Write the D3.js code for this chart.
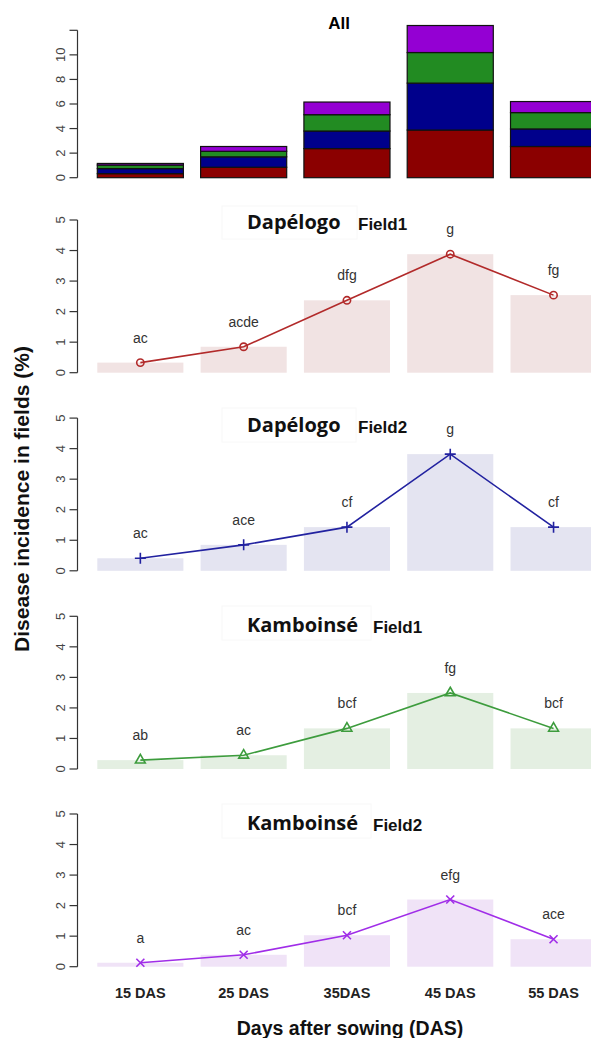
<!DOCTYPE html>
<html>
<head>
<meta charset="utf-8">
<script src="https://cdn.jsdelivr.net/npm/d3@7"></script>
<style>
  body { margin: 0; background: #fff; }
  svg { display: block; font-family: "Liberation Sans", Arial, sans-serif; }
</style>
</head>
<body>
<div class="chart"></div>
<script>
// categories
const days = ["15 DAS", "25 DAS", "35DAS", "45 DAS", "55 DAS"];

// disease incidence (%) per field
const dapelogo1 = [0.33, 0.85, 2.37, 3.88, 2.54];
const dapelogo2 = [0.41, 0.85, 1.43, 3.82, 1.43];
const kamboinse1 = [0.29, 0.45, 1.33, 2.49, 1.33];
const kamboinse2 = [0.13, 0.39, 1.03, 2.2, 0.9];

// significance letters
const letters1 = ["ac", "acde", "dfg", "g", "fg"];
const letters2 = ["ac", "ace", "cf", "g", "cf"];
const letters3 = ["ab", "ac", "bcf", "fg", "bcf"];
const letters4 = ["a", "ac", "bcf", "efg", "ace"];

const allTicks = [0, 2, 4, 6, 8, 10, 12];
const fieldTicks = [0, 1, 2, 3, 4, 5];

const width = 591;
const height = 1038;

const svg = d3.select(".chart")
  .append("svg")
  .attr("width", width)
  .attr("height", height);

const step = 103.3;
const x = d3.scaleBand()
  .domain(days)
  .range([88.7, 88.7 + step * 5])
  .paddingInner(0.2 / 1.2)
  .paddingOuter(0.1 / 1.2);

const axisX = 77.5;

function drawYAxis(g, y, ticks, fmt) {
  g.append("line")
    .attr("x1", axisX).attr("x2", axisX)
    .attr("y1", y(ticks[0])).attr("y2", y(ticks[ticks.length - 1]))
    .attr("stroke", "#333").attr("stroke-width", 1.2);
  g.selectAll("line.tick")
    .data(ticks)
    .enter()
    .append("line")
    .attr("class", "tick")
    .attr("x1", axisX - 8).attr("x2", axisX)
    .attr("y1", (d) => y(d)).attr("y2", (d) => y(d))
    .attr("stroke", "#333").attr("stroke-width", 1.2);
  g.selectAll("text.tick")
    .data(ticks)
    .enter()
    .append("text")
    .attr("class", "tick")
    .attr("transform", (d) => "translate(" + (axisX - 13) + "," + y(d) + ") rotate(-90)")
    .attr("text-anchor", "middle")
    .attr("font-size", 13)
    .attr("fill", "#444")
    .text(fmt);
}

// ---- top stacked panel "All" ----
const fields = [dapelogo1, dapelogo2, kamboinse1, kamboinse2];
const stackColors = ["#8b0000", "#00008b", "#228b22", "#9400d3"];

const stackRows = days.map((d, i) => {
  const row = { day: d };
  fields.forEach((f, j) => { row["f" + j] = f[i]; });
  return row;
});
const stacked = d3.stack().keys(["f0", "f1", "f2", "f3"])(stackRows);

const yAll = d3.scaleLinear().domain([0, 12]).range([177.7, 30.3]);
const allPanel = svg.append("g");

allPanel.selectAll("g.layer")
  .data(stacked)
  .enter()
  .append("g")
  .attr("class", "layer")
  .attr("fill", (d, i) => stackColors[i])
  .selectAll("rect")
  .data((d) => d)
  .enter()
  .append("rect")
  .attr("x", (d) => x(d.data.day))
  .attr("width", x.bandwidth())
  .attr("y", (d) => yAll(d[1]))
  .attr("height", (d) => yAll(d[0]) - yAll(d[1]))
  .attr("stroke", "#111")
  .attr("stroke-width", 1.2);

drawYAxis(allPanel, yAll, allTicks, (d) => (d === 12 ? "" : d));

allPanel.append("text")
  .attr("x", 339)
  .attr("y", 29)
  .attr("text-anchor", "middle")
  .attr("font-weight", "bold")
  .attr("font-size", 17)
  .text("All");

// ---- field panels ----
const panels = [
  { site: "Dapélogo", field: "Field1", values: dapelogo1, letters: letters1,
    line: "#b22a2a", bar: "#f1e3e3", marker: "circle", y0: 372.7, title: 222, box: [222, 206, 135, 33] },
  { site: "Dapélogo", field: "Field2", values: dapelogo2, letters: letters2,
    line: "#2222a0", bar: "#e4e4f1", marker: "plus", y0: 570.8, title: 425, box: [222, 408, 134, 34] },
  { site: "Kamboinsé", field: "Field1", values: kamboinse1, letters: letters3,
    line: "#3d9c3d", bar: "#e4efe2", marker: "triangle", y0: 769, title: 625, box: [222, 606, 149, 34] },
  { site: "Kamboinsé", field: "Field2", values: kamboinse2, letters: letters4,
    line: "#a02de8", bar: "#f0e3f7", marker: "cross", y0: 966.7, title: 823, box: [222, 804, 149, 34] }
];

const markerPath = {
  circle: d3.symbol().type(d3.symbolCircle).size(42)(),
  triangle: d3.symbol().type(d3.symbolTriangle).size(42)(),
  plus: "M-5.5,0H5.5M0,-5.5V5.5",
  cross: "M-4,-4L4,4M-4,4L4,-4"
};

panels.forEach((p) => {
  const g = svg.append("g");
  const y = d3.scaleLinear().domain([0, 5]).range([p.y0, p.y0 - 152.7]);

  g.append("rect")
    .attr("x", p.box[0]).attr("y", p.box[1])
    .attr("width", p.box[2]).attr("height", p.box[3])
    .attr("fill", "#fff")
    .attr("stroke", "#f8f8f8");

  g.selectAll("rect.bar")
    .data(p.values)
    .enter()
    .append("rect")
    .attr("class", "bar")
    .attr("x", (d, i) => x(days[i]))
    .attr("width", x.bandwidth())
    .attr("y", (d) => y(d))
    .attr("height", (d) => y(0) - y(d))
    .attr("fill", p.bar);

  drawYAxis(g, y, fieldTicks, (d) => d);

  const line = d3.line()
    .x((d, i) => x(days[i]) + x.bandwidth() / 2)
    .y((d) => y(d));

  g.append("path")
    .datum(p.values)
    .attr("d", line)
    .attr("fill", "none")
    .attr("stroke", p.line)
    .attr("stroke-width", 1.6);

  g.selectAll("path.marker")
    .data(p.values)
    .enter()
    .append("path")
    .attr("class", "marker")
    .attr("transform", (d, i) => "translate(" + (x(days[i]) + x.bandwidth() / 2) + "," + y(d) + ")")
    .attr("d", markerPath[p.marker])
    .attr("fill", "none")
    .attr("stroke", p.line)
    .attr("stroke-width", 1.6);

  g.selectAll("text.letter")
    .data(p.values)
    .enter()
    .append("text")
    .attr("class", "letter")
    .attr("x", (d, i) => x(days[i]) + x.bandwidth() / 2)
    .attr("y", (d) => y(d) - 20)
    .attr("text-anchor", "middle")
    .attr("font-size", 14)
    .attr("fill", "#333")
    .text((d, i) => p.letters[i]);

  g.append("text")
    .attr("x", 247)
    .attr("y", p.title + 7)
    .attr("font-family", "'Open Sans', 'Noto Sans', sans-serif")
    .attr("font-weight", "bold")
    .attr("font-size", 20)
    .attr("fill", "#111")
    .text(p.site);

  g.append("text")
    .attr("x", p.site === "Dapélogo" ? 358 : 373)
    .attr("y", p.title + 8)
    .attr("font-weight", "bold")
    .attr("font-size", 17)
    .attr("fill", "#111")
    .text(p.field);
});

// x category labels
svg.selectAll("text.day")
  .data(days)
  .enter()
  .append("text")
  .attr("class", "day")
  .attr("x", (d) => x(d) + x.bandwidth() / 2)
  .attr("y", 998)
  .attr("text-anchor", "middle")
  .attr("font-weight", "bold")
  .attr("font-size", 14.5)
  .attr("fill", "#222")
  .text((d) => d);

svg.append("text")
  .attr("x", 350)
  .attr("y", 1035)
  .attr("text-anchor", "middle")
  .attr("font-weight", "bold")
  .attr("font-size", 19.5)
  .attr("fill", "#111")
  .text("Days after sowing (DAS)");

svg.append("text")
  .attr("transform", "translate(29,499) rotate(-90)")
  .attr("text-anchor", "middle")
  .attr("font-weight", "bold")
  .attr("font-size", 21)
  .attr("fill", "#111")
  .text("Disease incidence in fields (%)");
</script>
</body>
</html>
